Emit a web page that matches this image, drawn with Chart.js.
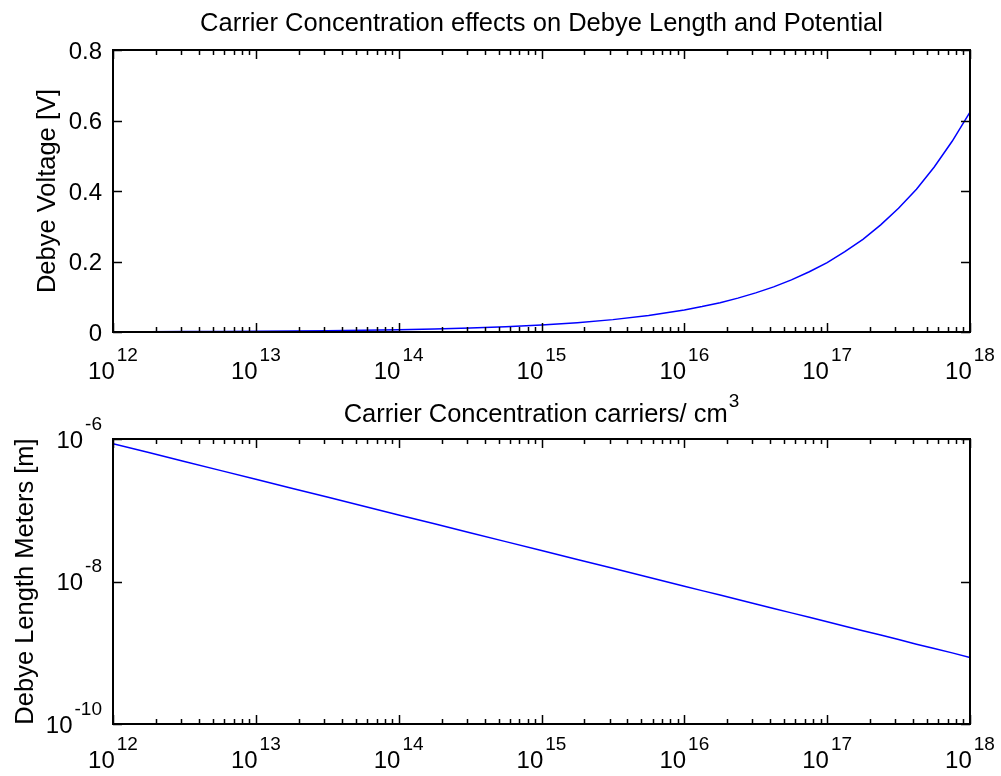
<!DOCTYPE html>
<html>
<head>
<meta charset="utf-8">
<script src="https://cdn.jsdelivr.net/npm/chart.js@4/dist/chart.umd.min.js"></script>
<style>
  body { margin: 0; background: #fff; }
  #wrap { position: relative; width: 1001px; height: 776px; }
  #wrap canvas { position: absolute; left: 0; top: 0; }
</style>
</head>
<body>
<div id="wrap">
  <canvas id="voltChart" width="1001" height="776"></canvas>
  <canvas id="lengthChart" width="1001" height="776"></canvas>
</div>
<script>
// 캐리어 농도 (cm^-3) - 1e16 이상은 더 촘촘하게
const carriers = [
  1e12, 1.78e12, 3.16e12, 5.62e12,
  1e13, 1.78e13, 3.16e13, 5.62e13,
  1e14, 1.78e14, 3.16e14, 5.62e14,
  1e15, 1.78e15, 3.16e15, 5.62e15,
  1e16, 1.33e16, 1.78e16, 2.37e16, 3.16e16, 4.22e16, 5.62e16, 7.5e16,
  1e17, 1.33e17, 1.78e17, 2.37e17, 3.16e17, 4.22e17, 5.62e17, 7.5e17,
  1e18
];

// Debye Voltage [V]
const voltage = [
  0.0006, 0.0008, 0.0011, 0.0015,
  0.0020, 0.0026, 0.0035, 0.0047,
  0.0062, 0.0083, 0.0111, 0.0148,
  0.0197, 0.0263, 0.0351, 0.0468,
  0.0624, 0.0721, 0.0832, 0.0961, 0.111, 0.128, 0.148, 0.171,
  0.197, 0.228, 0.263, 0.304, 0.351, 0.405, 0.468, 0.541,
  0.624
];

// Debye Length [m]
const debyeLength = [
  8.6e-7, 6.45e-7, 4.84e-7, 3.63e-7,
  2.72e-7, 2.04e-7, 1.53e-7, 1.15e-7,
  8.6e-8, 6.45e-8, 4.84e-8, 3.63e-8,
  2.72e-8, 2.04e-8, 1.53e-8, 1.15e-8,
  8.6e-9, 7.45e-9, 6.45e-9, 5.58e-9, 4.84e-9, 4.19e-9, 3.63e-9, 3.14e-9,
  2.72e-9, 2.35e-9, 2.04e-9, 1.77e-9, 1.53e-9, 1.32e-9, 1.15e-9, 9.96e-10,
  8.6e-10
];

// 눈금
const xExponents = ['12', '13', '14', '15', '16', '17', '18'];
const voltTicks = [0, 0.2, 0.4, 0.6, 0.8];
const voltTickLabels = ['0', '0.2', '0.4', '0.6', '0.8'];
const lengthTicks = [1e-10, 1e-8, 1e-6];
const lengthExponents = ['-10', '-8', '-6'];

const FONT = '"Liberation Sans", Arial, sans-serif';

// "10^n" 형태 텍스트
function drawPow(ctx, exp, x, baseline, align) {
  ctx.font = '24px ' + FONT;
  const wb = ctx.measureText('10').width;
  ctx.font = '19px ' + FONT;
  const we = ctx.measureText(exp).width;
  const total = wb + 2 + we;
  const left = align === 'center' ? x - total / 2 : x - total;
  ctx.textAlign = 'left';
  ctx.textBaseline = 'alphabetic';
  ctx.font = '24px ' + FONT;
  ctx.fillText('10', left, baseline);
  ctx.font = '19px ' + FONT;
  ctx.fillText(exp, left + wb + 2, baseline - 18);
}

// MATLAB 스타일 축 (박스 + 안쪽 눈금 + 라벨)
const matlabAxes = {
  id: 'matlabAxes',
  afterDraw(chart, args, opts) {
    const ctx = chart.ctx;
    const area = chart.chartArea;
    const xs = chart.scales.x;
    const ys = chart.scales.y;
    ctx.save();
    ctx.fillStyle = '#000';
    ctx.strokeStyle = '#000';

    // x 눈금 (major/minor)
    ctx.lineWidth = 1.5;
    ctx.beginPath();
    for (let e = 12; e <= 18; e++) {
      for (let m = 1; m <= 9; m++) {
        const v = m * Math.pow(10, e);
        if (v > 1e18) break;
        const px = Math.round(xs.getPixelForValue(v)) + 0.5;
        const len = m === 1 ? 9 : 5;
        ctx.moveTo(px, area.bottom);
        ctx.lineTo(px, area.bottom - len);
        ctx.moveTo(px, area.top);
        ctx.lineTo(px, area.top + len);
      }
    }
    // y 눈금
    opts.yTicks.forEach(v => {
      const py = Math.round(ys.getPixelForValue(v)) + 0.5;
      ctx.moveTo(area.left, py);
      ctx.lineTo(area.left + 9, py);
      ctx.moveTo(area.right, py);
      ctx.lineTo(area.right - 9, py);
    });
    ctx.stroke();

    // 박스
    ctx.lineWidth = 2;
    ctx.strokeRect(area.left, area.top, area.right - area.left, area.bottom - area.top);

    // x 눈금 라벨
    xExponents.forEach(exp => {
      const px = xs.getPixelForValue(Math.pow(10, Number(exp)));
      drawPow(ctx, exp, px, area.bottom + opts.xLabelOffset, 'center');
    });

    // y 눈금 라벨
    opts.yTicks.forEach((v, i) => {
      const py = ys.getPixelForValue(v);
      if (opts.yPow) {
        drawPow(ctx, opts.yLabels[i], area.left - 11, py + 8.5, 'right');
      } else {
        ctx.font = '24px ' + FONT;
        ctx.textAlign = 'right';
        ctx.textBaseline = 'alphabetic';
        ctx.fillText(opts.yLabels[i], area.left - 11, py + 8.5);
      }
    });

    const cx = (area.left + area.right) / 2;
    const cy = (area.top + area.bottom) / 2;

    // 제목
    if (opts.title) {
      ctx.font = '25.5px ' + FONT;
      ctx.textAlign = 'center';
      ctx.textBaseline = 'alphabetic';
      ctx.fillText(opts.title, cx, 31);
    }

    // x 축 제목 (cm^3)
    if (opts.xTitle) {
      ctx.font = '25.5px ' + FONT;
      const w1 = ctx.measureText(opts.xTitle).width;
      ctx.font = '19px ' + FONT;
      const w2 = ctx.measureText('3').width;
      const left = cx - (w1 + w2 + 1) / 2;
      ctx.textAlign = 'left';
      ctx.font = '25.5px ' + FONT;
      ctx.fillText(opts.xTitle, left, area.bottom + 90);
      ctx.font = '19px ' + FONT;
      ctx.fillText('3', left + w1 + 1, area.bottom + 75);
    }

    // y 축 제목 (회전)
    ctx.translate(opts.yTitleX, cy);
    ctx.rotate(-Math.PI / 2);
    ctx.font = '25.5px ' + FONT;
    ctx.textAlign = 'center';
    ctx.textBaseline = 'alphabetic';
    ctx.fillText(opts.yTitle, 0, 0);
    ctx.restore();
  }
};

function makePoints(ys) {
  return carriers.map((c, i) => ({ x: c, y: ys[i] }));
}

// ─── 1) Debye Voltage (linear y) ───────────────────────────────
new Chart(document.getElementById('voltChart'), {
  type: 'line',
  data: {
    datasets: [{
      data: makePoints(voltage),
      borderColor: '#0000ff',
      borderWidth: 1.5,
      pointRadius: 0,
      tension: 0
    }]
  },
  options: {
    responsive: false,
    animation: false,
    layout: { padding: { top: 50, right: 31, bottom: 0, left: 0 } },
    scales: {
      x: {
        type: 'logarithmic', min: 1e12, max: 1e18,
        ticks: { display: false }, grid: { display: false }, border: { display: false },
        afterFit: s => { s.height = 776 - 332; }
      },
      y: {
        type: 'linear', min: 0, max: 0.8,
        ticks: { display: false }, grid: { display: false }, border: { display: false },
        afterFit: s => { s.width = 113; }
      }
    },
    plugins: {
      legend: { display: false },
      tooltip: { enabled: false },
      matlabAxes: {
        title: 'Carrier Concentration effects on Debye Length and Potential',
        xTitle: 'Carrier Concentration carriers/ cm',
        yTitle: 'Debye Voltage [V]',
        yTitleX: 55,
        yTicks: voltTicks,
        yLabels: voltTickLabels,
        yPow: false,
        xLabelOffset: 47
      }
    }
  },
  plugins: [matlabAxes]
});

// ─── 2) Debye Length (log y) ───────────────────────────────
new Chart(document.getElementById('lengthChart'), {
  type: 'line',
  data: {
    datasets: [{
      data: makePoints(debyeLength),
      borderColor: '#0000ff',
      borderWidth: 1.5,
      pointRadius: 0,
      tension: 0
    }]
  },
  options: {
    responsive: false,
    animation: false,
    layout: { padding: { top: 439, right: 31, bottom: 0, left: 0 } },
    scales: {
      x: {
        type: 'logarithmic', min: 1e12, max: 1e18,
        ticks: { display: false }, grid: { display: false }, border: { display: false },
        afterFit: s => { s.height = 776 - 724; }
      },
      y: {
        type: 'logarithmic', min: 1e-10, max: 1e-6,
        ticks: { display: false }, grid: { display: false }, border: { display: false },
        afterFit: s => { s.width = 113; }
      }
    },
    plugins: {
      legend: { display: false },
      tooltip: { enabled: false },
      matlabAxes: {
        yTitle: 'Debye Length Meters [m]',
        yTitleX: 33,
        yTicks: lengthTicks,
        yLabels: lengthExponents,
        yPow: true,
        xLabelOffset: 44
      }
    }
  },
  plugins: [matlabAxes]
});
</script>
</body>
</html>
